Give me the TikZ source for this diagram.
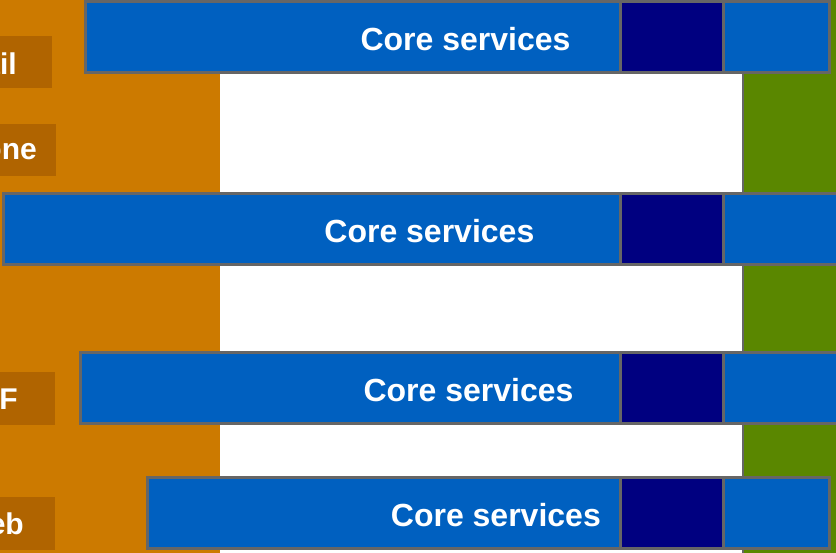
\documentclass[tikz,border=0pt]{standalone}
\usepackage{fontspec}
\setmainfont{Liberation Sans}
\definecolor{chanorange}{RGB}{204,122,0}
\definecolor{chanbox}{RGB}{176,100,0}
\definecolor{coreblue}{RGB}{0,96,192}
\definecolor{corenavy}{RGB}{0,0,128}
\definecolor{backgreen}{RGB}{90,135,0}
\definecolor{edgegray}{RGB}{102,102,102}
\tikzset{
  corebar/.style={fill=coreblue, draw=edgegray, line width=3pt},
  corecell/.style={fill=corenavy, draw=edgegray, line width=3pt},
  corelabel/.style={text=white, font=\fontsize{32}{38}\selectfont\bfseries, anchor=base, inner sep=0pt},
  chanlabel/.style={text=white, font=\fontsize{30}{36}\selectfont\bfseries, anchor=base east, inner sep=0pt},
}
\begin{document}
\begin{tikzpicture}[x=1pt,y=-1pt]
\useasboundingbox (0,0) rectangle (836,552);
\clip (0,0) rectangle (836,552);
% background bands
\fill[white] (0,0) rectangle (836,552);
\fill[chanorange] (-10,-10) rectangle (220,562);
\filldraw[fill=backgreen, draw=edgegray, line width=1.5pt] (743,-10) rectangle (850,562);
% channel tags
\fill[chanbox] (-80,36) rectangle (52,88);
\fill[chanbox] (-80,124) rectangle (56,176);
\fill[chanbox] (-80,372) rectangle (55,425);
\fill[chanbox] (-80,497) rectangle (55,550);
\node[chanlabel] (mail)  at (17,74.3)  {Mail};
\node[chanlabel] (phone) at (37,159)   {Phone};
\node[chanlabel] (pdf)   at (18,409.3) {PDF};
\node[chanlabel] (web)   at (24,534.5) {Web};
% core service bars
\draw[corebar] (85.5,1.3) rectangle (829.8,72.2);
\draw[corecell] (620.8,1.3) rectangle (723.8,72.2);
\node[corelabel] (core1) at (465.5,50) {Core services};
\draw[corebar] (3.5,193.2) rectangle (845,264.8);
\draw[corecell] (620.8,193.2) rectangle (723.8,264.8);
\node[corelabel] (core2) at (429.4,242.3) {Core services};
\draw[corebar] (80.8,352.2) rectangle (845,423.8);
\draw[corecell] (620.8,352.2) rectangle (723.8,423.8);
\node[corelabel] (core3) at (468.5,401.2) {Core services};
\draw[corebar] (147.5,477.2) rectangle (829.8,548.8);
\draw[corecell] (620.8,477.2) rectangle (723.8,548.8);
\node[corelabel] (core4) at (495.9,526.5) {Core services};
\end{tikzpicture}
\end{document}
